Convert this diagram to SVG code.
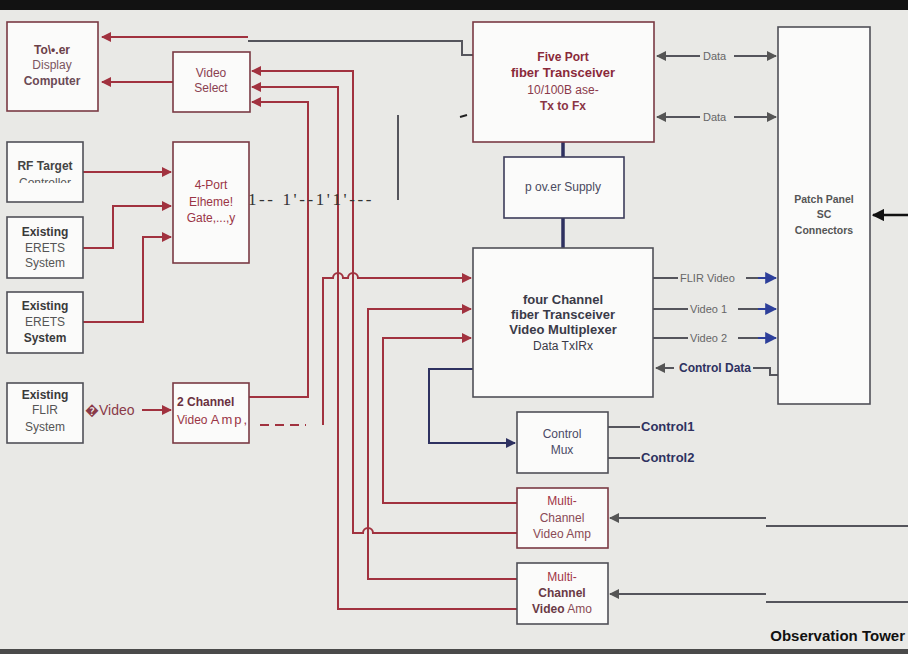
<svg xmlns="http://www.w3.org/2000/svg" width="908" height="654" viewBox="0 0 908 654">
<defs>
<style>
text{font-family:"Liberation Sans",Arial,sans-serif;text-anchor:middle}
.box{fill:#fbfbfa;stroke-width:1.6}
.rb{stroke:#7a3a44}
.gb{stroke:#505058}
.nb{stroke:#3c3c5a}
.red{fill:none;stroke:#a1323f;stroke-width:2}
.gry{fill:none;stroke:#55555c;stroke-width:2}
.nav{fill:none;stroke:#2e3160;stroke-width:2}
.t12{font-size:12px}
.b{font-weight:bold}
.lbl{font-size:11px;fill:#666;text-anchor:start}
</style>
<marker id="ar" viewBox="0 0 10 10" refX="9" refY="5" markerWidth="5" markerHeight="5" orient="auto-start-reverse"><path d="M0,0L10,5L0,10z" fill="#a1323f"/></marker>
<marker id="ag" viewBox="0 0 10 10" refX="9" refY="5" markerWidth="5" markerHeight="5" orient="auto-start-reverse"><path d="M0,0L10,5L0,10z" fill="#555"/></marker>
<marker id="an" viewBox="0 0 10 10" refX="9" refY="5" markerWidth="5" markerHeight="5" orient="auto-start-reverse"><path d="M0,0L10,5L0,10z" fill="#2e3160"/></marker>
<marker id="ab" viewBox="0 0 10 10" refX="9" refY="5" markerWidth="6" markerHeight="6" orient="auto-start-reverse"><path d="M0,0L10,5L0,10z" fill="#2d3f9a"/></marker>
<marker id="ak" viewBox="0 0 10 10" refX="9" refY="5" markerWidth="5" markerHeight="5" orient="auto-start-reverse"><path d="M0,0L10,5L0,10z" fill="#111"/></marker>
<clipPath id="clipRF"><rect x="7" y="142" width="77" height="41"/></clipPath>
</defs>
<rect x="0" y="0" width="908" height="654" fill="#e9e9e6"/>
<rect x="0" y="0" width="908" height="10" fill="#121212"/>
<rect x="0" y="649" width="908" height="5" fill="#4a4a4a"/>

<g id="connectors">
<path class="gry" d="M473,55 H462 V41 H248"/>
<path class="red" d="M248,37 H102" marker-end="url(#ar)"/>
<path class="red" d="M173,82 H102" marker-end="url(#ar)"/>
<path class="red" d="M83,172 H171" marker-end="url(#ar)"/>
<path class="red" d="M83,248 H113 V206 H171" marker-end="url(#ar)"/>
<path class="red" d="M83,322 H143 V237 H171" marker-end="url(#ar)"/>
<path class="red" d="M142,410 H171" marker-end="url(#ar)"/>
<path class="red" d="M249,397 H308 V102 H252" marker-end="url(#ar)"/>
<path class="red" d="M517,533 H373 A5,5 0 0 0 363,533 H353 V71 H252" marker-end="url(#ar)"/>
<path class="red" d="M517,609 H338 V87 H252" marker-end="url(#ar)"/>
<path class="red" d="M260,425 H306" stroke-dasharray="9,6"/>
<path class="red" d="M323,425 V278 H333 A5,5 0 0 1 343,278 H348 A5,5 0 0 1 358,278 H471" marker-end="url(#ar)"/>
<path class="red" d="M517,579 H368 V309 H471" marker-end="url(#ar)"/>
<path class="red" d="M517,503 H383 V338 H471" marker-end="url(#ar)"/>
<path class="gry" d="M398,115 V200"/>
<path d="M460,117 L467,115" stroke="#222" stroke-width="2"/>
<path d="M563,142 V157 M563,218 V248" stroke="#2e3160" stroke-width="3.5"/>
<path class="gry" d="M657,56 H700" marker-start="url(#ag)"/>
<path class="gry" d="M734,56 H776" marker-end="url(#ag)"/>
<text class="lbl" x="703" y="60">Data</text>
<path class="gry" d="M657,117 H700" marker-start="url(#ag)"/>
<path class="gry" d="M734,117 H776" marker-end="url(#ag)"/>
<text class="lbl" x="703" y="121">Data</text>
<path class="gry" d="M653,278 H678"/>
<path class="gry" d="M746,278 H758"/>
<path d="M758,278 H776" stroke="#2d3f9a" stroke-width="2" marker-end="url(#ab)"/>
<text class="lbl" x="680" y="282">FLIR Video</text>
<path class="gry" d="M653,309 H688"/>
<path class="gry" d="M738,309 H758"/>
<path d="M758,309 H776" stroke="#2d3f9a" stroke-width="2" marker-end="url(#ab)"/>
<text class="lbl" x="690" y="313">Video 1</text>
<path class="gry" d="M653,338 H688"/>
<path class="gry" d="M738,338 H758"/>
<path d="M758,338 H776" stroke="#2d3f9a" stroke-width="2" marker-end="url(#ab)"/>
<text class="lbl" x="690" y="342">Video 2</text>
<path class="gry" d="M674,368 H656" marker-end="url(#ag)"/>
<path class="gry" d="M753,368 H770 V375 H778"/>
<text x="715" y="372" font-size="12" font-weight="bold" fill="#2e3160">Control Data</text>
<path class="nav" d="M473,369 H429 V443 H515" marker-end="url(#an)"/>
<path class="gry" d="M608,427 H640"/>
<path class="gry" d="M608,458 H640"/>
<text x="641" y="431" font-size="13" font-weight="bold" fill="#2e3160" style="text-anchor:start">Control1</text>
<text x="641" y="462" font-size="13" font-weight="bold" fill="#2e3160" style="text-anchor:start">Control2</text>
<path class="gry" d="M766,518 H610" marker-end="url(#ag)"/>
<path class="gry" d="M766,526 H908"/>
<path class="gry" d="M766,594 H610" marker-end="url(#ag)"/>
<path class="gry" d="M766,602 H908"/>
<path d="M908,215 H873" stroke="#111" stroke-width="2.5" marker-end="url(#ak)"/>
</g>

<g id="tower-display">
<rect class="box rb" x="7" y="22" width="91" height="89"/>
<text x="52" y="54" class="t12 b" fill="#6b4048">To\•.er</text>
<text x="52" y="69" class="t12" fill="#7a5560">Display</text>
<text x="52" y="85" class="t12 b" fill="#6b4a55">Computer</text>
</g>
<g id="video-select">
<rect class="box rb" x="173" y="52" width="77" height="60"/>
<text x="211" y="77" class="t12" fill="#8a4050">Video</text>
<text x="211" y="92" class="t12" fill="#8a4050">Select</text>
</g>
<g id="rf-target">
<rect class="box gb" x="7" y="142" width="76" height="60"/>
<text x="45" y="170" class="t12 b" fill="#444">RF Target</text>
<text x="45" y="187" class="t12" fill="#555" clip-path="url(#clipRF)">Controller</text>
</g>
<g id="erets-1">
<rect class="box gb" x="7" y="217" width="76" height="61"/>
<text x="45" y="236" class="t12 b" fill="#3a3a3a">Existing</text>
<text x="45" y="252" class="t12" fill="#555">ERETS</text>
<text x="45" y="267" class="t12" fill="#555">System</text>
</g>
<g id="erets-2">
<rect class="box gb" x="7" y="292" width="76" height="61"/>
<text x="45" y="310" class="t12 b" fill="#3a3a3a">Existing</text>
<text x="45" y="326" class="t12" fill="#555">ERETS</text>
<text x="45" y="342" class="t12 b" fill="#3a3a3a">System</text>
</g>
<g id="gateway">
<rect class="box rb" x="173" y="142" width="76" height="121"/>
<text x="211" y="189" class="t12" fill="#9a3545">4-Port</text>
<text x="211" y="206" class="t12" fill="#9a3545">Elheme!</text>
<text x="211" y="222" class="t12" fill="#9a3545">Gate,...,y</text>
<text x="248" y="205" font-size="17" fill="#333" letter-spacing="2.6" style="text-anchor:start;font-family:'Liberation Serif','Times New Roman',serif">1-- 1'--1'1'---</text>
</g>
<g id="flir">
<rect class="box gb" x="7" y="383" width="76" height="60"/>
<text x="45" y="399" class="t12 b" fill="#3a3a3a">Existing</text>
<text x="45" y="414" class="t12" fill="#555">FLIR</text>
<text x="45" y="431" class="t12" fill="#555">System</text>
<text x="85" y="415" font-size="14" fill="#8a3a48" style="text-anchor:start">�Video</text>
</g>
<g id="two-channel-amp">
<rect class="box rb" x="173" y="383" width="76" height="60"/>
<text x="177" y="406" class="t12 b" fill="#6a3040" style="text-anchor:start">2 Channel</text>
<text x="177" y="424" class="t12" fill="#9a3545" style="text-anchor:start">Video <tspan font-size="13" letter-spacing="2">Amp,</tspan></text>
</g>
<g id="five-port">
<rect class="box rb" x="473" y="22" width="181" height="120"/>
<text x="563" y="61" class="t12 b" fill="#8a2a3a">Five Port</text>
<text x="563" y="77" font-size="13" class="b" fill="#8a2a3a">fiber Transceiver</text>
<text x="563" y="94" class="t12" fill="#8a3a4a">10/100B ase-</text>
<text x="563" y="110" class="t12 b" fill="#8a3545">Tx to Fx</text>
</g>
<g id="power-supply">
<rect class="box nb" x="504" y="157" width="120" height="61"/>
<text x="563" y="191" class="t12" fill="#4a4a60">p ov.er Supply</text>
</g>
<g id="four-channel">
<rect class="box gb" x="473" y="248" width="180" height="149"/>
<text x="563" y="304" font-size="13" class="b" fill="#3a3a48">four Channel</text>
<text x="563" y="319" font-size="13" class="b" fill="#3a3a48">fiber Transceiver</text>
<text x="563" y="334" font-size="13" class="b" fill="#3a3a48">Video Multiplexer</text>
<text x="563" y="350" class="t12" fill="#3a3a48">Data TxIRx</text>
</g>
<g id="control-mux">
<rect class="box gb" x="517" y="412" width="91" height="61"/>
<text x="562" y="438" class="t12" fill="#4a4a66">Control</text>
<text x="562" y="454" class="t12" fill="#4a4a66">Mux</text>
</g>
<g id="multi-amp-1">
<rect class="box rb" x="517" y="488" width="91" height="60"/>
<text x="562" y="505" class="t12" fill="#a03545">Multi-</text>
<text x="562" y="522" class="t12" fill="#8a4a55">Channel</text>
<text x="562" y="538" class="t12" fill="#8a4a55">Video Amp</text>
</g>
<g id="multi-amp-2">
<rect class="box gb" x="517" y="563" width="91" height="61"/>
<text x="562" y="581" class="t12" fill="#a03545">Multi-</text>
<text x="562" y="597" class="t12 b" fill="#6a3a45">Channel</text>
<text x="562" y="613" class="t12" fill="#8a4a55"><tspan font-weight="bold" fill="#6a3a45">Video</tspan> Amo</text>
</g>
<g id="patch-panel">
<rect class="box gb" x="778" y="27" width="92" height="377"/>
<text x="824" y="203" font-size="10.5" class="b" fill="#555">Patch Panel</text>
<text x="824" y="218" font-size="10.5" class="b" fill="#555">SC</text>
<text x="824" y="234" font-size="10.5" class="b" fill="#555">Connectors</text>
</g>
<text x="905" y="641" font-size="15" font-weight="bold" fill="#111" style="text-anchor:end">Observation Tower</text>
</svg>
